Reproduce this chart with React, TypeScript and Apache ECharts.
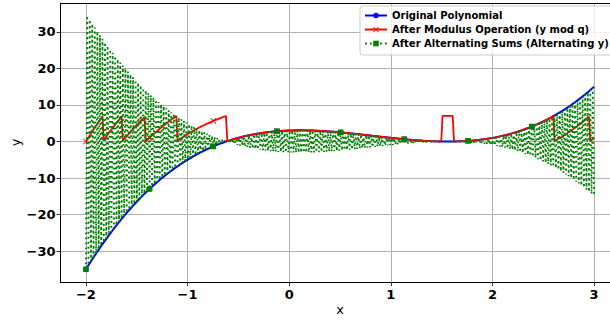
import React, { useEffect, useRef } from 'react';
import * as echarts from 'echarts';

// ---- data ----
// sampled domain and sample count of the plotted curves
const X_RANGE = [-2, 3];
const SAMPLE_COUNT = 400;
// cubic: y(0)=3, roots at -0.618, 1.5, 1.618, y(-2)=-35, y(3)=15
const POLY_COEFFS = [2, -5, 1, 3];
// modulus q (red sawtooth tops out at 7)
const MOD_Q = 7;
// markers are drawn on every 50th sample
const MARK_EVERY = 50;
const X_TICKS = [-2, -1, 0, 1, 2, 3];
const Y_TICKS = [-30, -20, -10, 0, 10, 20, 30];
const SERIES_NAMES = [
  'Original Polynomial',
  'After Modulus Operation (y mod q)',
  'After Alternating Sums (Alternating y)',
];
const SERIES_COLORS = ['#0000ff', '#ff0000', '#008000'];

const X_SAMPLES = Array.from(
  { length: SAMPLE_COUNT },
  (_, i) => X_RANGE[0] + ((X_RANGE[1] - X_RANGE[0]) * i) / (SAMPLE_COUNT - 1)
);
const ORIGINAL = X_SAMPLES.map((x) => POLY_COEFFS.reduce((acc, c) => acc * x + c, 0));
const MODULUS = ORIGINAL.map((y) => ((y % MOD_Q) + MOD_Q) % MOD_Q);
const ALTERNATING = ORIGINAL.map((y, i) => (i % 2 === 0 ? y : -y));

const FONT = 'DejaVu Sans';
const X_MARK = 'path://M1,0L5,4L9,0L10,1L6,5L10,9L9,10L5,6L1,10L0,9L4,5L0,1Z';

const toData = (ys: number[]) =>
  ys.map((y, i) =>
    i % MARK_EVERY === 0 ? [X_SAMPLES[i], y] : { value: [X_SAMPLES[i], y], symbol: 'none' }
  );

const fmt = (ticks: number[]) => (v: number) =>
  ticks.some((t) => Math.abs(t - v) < 1e-9) ? String(v).replace('-', '\u2212') : '';

export default function App() {
  const ref = useRef<HTMLDivElement>(null);
  useEffect(() => {
    const chart = echarts.init(ref.current!, null, { renderer: 'svg' });
    const tickLabel = {
      fontFamily: FONT,
      fontSize: 13,
      fontWeight: 'bold',
      color: '#000',
    };
    const nameStyle = { fontFamily: FONT, fontSize: 13, color: '#000', fontWeight: 'normal' };
    chart.setOption({
      animation: false,
      grid: { left: 60.5, top: 3, width: 559, height: 279, containLabel: false, outerBoundsMode: 'none' },
      xAxis: [
        {
          type: 'value',
          min: -2.25,
          max: 3.25,
          minInterval: 1,
          maxInterval: 1,
          axisLine: { show: true, onZero: false, lineStyle: { color: '#000', width: 1 } },
          axisTick: { show: true, length: 4, lineStyle: { color: '#333', width: 1 }, customValues: X_TICKS },
          axisLabel: { ...tickLabel, margin: 6, customValues: X_TICKS, formatter: fmt(X_TICKS) },
          splitLine: { show: true, lineStyle: { color: '#b0b0b0', width: 1 } },
          name: 'x',
          nameLocation: 'middle',
          nameGap: 21,
          nameMoveOverlap: false,
          nameTextStyle: nameStyle,
        },
        {
          type: 'value',
          position: 'top',
          min: -2.25,
          max: 3.25,
          axisLine: { show: true, onZero: false, lineStyle: { color: '#000', width: 1 } },
          axisTick: { show: false },
          axisLabel: { show: false },
          splitLine: { show: false },
        },
      ],
      yAxis: {
        type: 'value',
        min: -38.47,
        max: 37.91,
        minInterval: 10,
        maxInterval: 10,
        axisLine: { show: true, onZero: false, lineStyle: { color: '#000', width: 1 } },
        axisTick: { show: true, length: 4, lineStyle: { color: '#333', width: 1 }, customValues: Y_TICKS },
        axisLabel: { ...tickLabel, margin: 5, customValues: Y_TICKS, formatter: fmt(Y_TICKS) },
        splitLine: { show: true, lineStyle: { color: '#b0b0b0', width: 1 } },
        name: 'y',
        nameLocation: 'middle',
        nameGap: 39,
        nameMoveOverlap: false,
        nameTextStyle: nameStyle,
      },
      legend: {
        orient: 'vertical',
        left: 360,
        top: 6,
        padding: [4, 6, 6, 4],
        itemWidth: 22,
        itemHeight: 7,
        itemGap: 3,
        backgroundColor: 'rgba(255,255,255,0.8)',
        borderColor: '#cccccc',
        borderWidth: 1,
        borderRadius: 3,
        textStyle: {
          fontFamily: FONT,
          fontSize: 10,
          fontWeight: 'bold',
          color: '#000',
          lineHeight: 11,
          padding: [0, 0, 0, 0],
        },
        data: SERIES_NAMES,
      },
      series: [
        {
          type: 'line',
          name: SERIES_NAMES[0],
          data: toData(ORIGINAL),
          symbol: 'circle',
          symbolSize: 5.5,
          showAllSymbol: true,
          lineStyle: { color: SERIES_COLORS[0], width: 2 },
          itemStyle: { color: SERIES_COLORS[0] },
          z: 2,
          silent: true,
        },
        {
          type: 'line',
          name: SERIES_NAMES[1],
          data: toData(MODULUS),
          symbol: X_MARK,
          symbolSize: 6,
          showAllSymbol: true,
          lineStyle: { color: SERIES_COLORS[1], width: 1.8 },
          itemStyle: { color: SERIES_COLORS[1] },
          z: 3,
          silent: true,
        },
        {
          type: 'line',
          name: SERIES_NAMES[2],
          data: toData(ALTERNATING),
          symbol: 'rect',
          symbolSize: 5.5,
          showAllSymbol: true,
          lineStyle: { color: SERIES_COLORS[2], width: 1.8, type: [1.8, 3.2] },
          itemStyle: { color: SERIES_COLORS[2] },
          z: 4,
          silent: true,
        },
      ],
    });
    return () => chart.dispose();
  }, []);
  return (
    <div
      ref={ref}
      style={{ position: 'fixed', left: 0, top: 0, width: 610, height: 320, background: '#fff' }}
    />
  );
}
